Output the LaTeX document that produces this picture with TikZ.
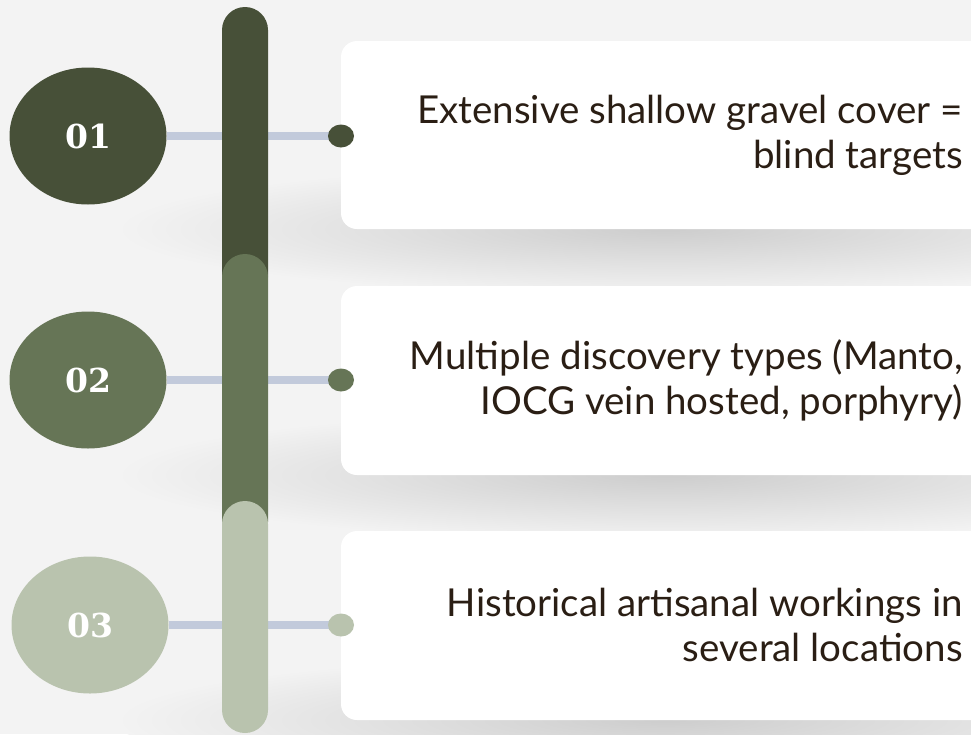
\documentclass[tikz,border=0pt]{standalone}
\usepackage{fontspec}
\setmainfont{Lato}
\newfontfamily\numfont{DejaVu Serif}
\usetikzlibrary{shapes.geometric}

\definecolor{pagebg}{HTML}{F3F3F3}
\definecolor{stepdark}{HTML}{475038}
\definecolor{stepmid}{HTML}{667556}
\definecolor{steplight}{HTML}{B9C3AE}
\definecolor{linkcol}{HTML}{C2CADB}
\definecolor{textcol}{HTML}{2A1E14}
\definecolor{shadowcol}{HTML}{CDCDCD}

\pgfdeclarelayer{cardlayer}
\pgfdeclarelayer{linklayer}
\pgfsetlayers{cardlayer,linklayer,main}

\tikzset{
  numdisc/.style={ellipse, minimum width=157pt, minimum height=137pt, inner sep=0pt,
    text=white, font=\numfont\bfseries\fontsize{33}{33}\selectfont},
  dotnode/.style={ellipse, minimum width=26pt, minimum height=23pt, inner sep=0pt},
  link/.style={draw=linkcol, line width=8pt},
  card/.style={fill=white, rounded corners=16pt},
  barseg/.style={rounded corners=23pt},
  shadowblob/.style={shading=radial, inner color=shadowcol, outer color=pagebg},
  itemtext/.style={anchor=east, align=right, text=textcol, inner sep=0pt,
    font=\fontsize{38.5}{45}\selectfont},
}

\begin{document}
\begin{tikzpicture}[x=1pt,y=-1pt]
\useasboundingbox (0,0) rectangle (971,734);
\clip (0,0) rectangle (971,734);

% page, card shadows and cards
\begin{pgfonlayer}{cardlayer}
  \fill[pagebg] (0,0) rectangle (971,734);
  \foreach \ytop/\ybot in {41/229, 286/475, 531/720} {
    \shade[shadowblob] (665,\ybot) ellipse [x radius=550pt, y radius=66pt];
    \fill[card] (341,\ytop) rectangle (1000,\ybot);
  }
\end{pgfonlayer}

% timeline bar, three overlapping segments
\fill[barseg, stepdark]  (222,7)   rectangle (268,300);
\fill[barseg, stepmid]   (222,254) rectangle (268,545);
\fill[barseg, steplight] (222,501) rectangle (268,733);

% numbered discs
\node[numdisc, fill=stepdark]  (n1) at (88,136) {01};
\node[numdisc, fill=stepmid]   (n2) at (88,380) {02};
\node[numdisc, fill=steplight] (n3) at (90,625) {03};

% end dots on the cards
\node[dotnode, fill=stepdark]  (d1) at (341,136) {};
\node[dotnode, fill=stepmid]   (d2) at (341,380) {};
\node[dotnode, fill=steplight] (d3) at (341,625) {};

% connectors behind the bar
\begin{pgfonlayer}{linklayer}
  \draw[link] (n1.east) -- (d1.center);
  \draw[link] (n2.east) -- (d2.center);
  \draw[link] (n3.east) -- (d3.center);
\end{pgfonlayer}

% card texts
\node[itemtext] (t1) at (963,135) {Extensive shallow gravel cover =\\blind targets};
\node[itemtext] (t2) at (963,380) {Multiple discovery types (Manto,\\IOCG vein hosted, porphyry)};
\node[itemtext] (t3) at (963,625) {Historical artisanal workings in\\several locations};
\end{tikzpicture}
\end{document}
